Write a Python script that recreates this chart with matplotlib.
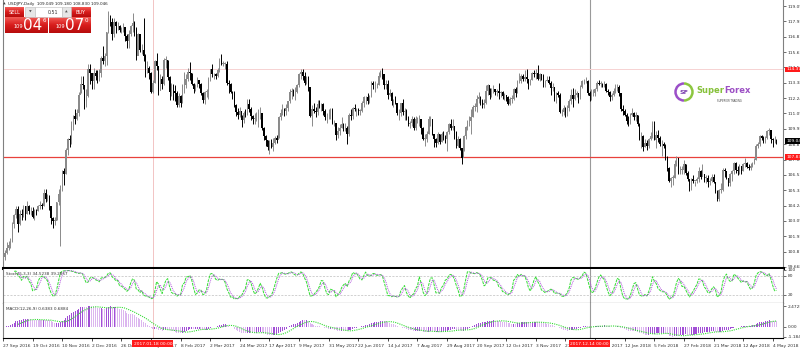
import numpy as np
import pandas as pd
import matplotlib
matplotlib.use('Agg')
import matplotlib.pyplot as plt
from matplotlib.patches import Rectangle, Arc
from matplotlib.colors import LinearSegmentedColormap

plt.rcParams['font.family'] = ['DejaVu Sans']

# USDJPY daily, 27 Sep 2016 .. 8 May 2018 (one row per week)
first_open = 100.3
closes = [
    100.4, 100.7, 101.1, 101.3,
    101.6, 102.9, 103.5, 104.0, 102.9,
    103.6, 103.5, 104.2, 103.6, 104.2,
    103.8, 103.8, 103.4, 103.9, 103.8,
    104.2, 104.3, 104.2, 105.2, 104.7,
    104.8, 104.2, 103.3, 103.1, 103.1,
    104.5, 105.1, 105.7, 106.8, 106.6,
    108.4, 109.2, 109.1, 110.2, 110.9,
    110.7, 111.1, 112.5, 113.3, 113.2,
    112.0, 112.4, 114.4, 114.1, 113.5,
    114.1, 113.9, 113.8, 114.1, 115.2,
    115.0, 115.4, 117.2, 118.2, 117.9,
    117.0, 117.9, 117.6, 117.6, 117.3,
    117.4, 117.5, 116.9, 116.5, 117.0,
    117.6, 117.8, 117.3, 115.4, 117.0,
    115.8, 115.8, 115.4, 114.5, 114.5,
    114.1, 112.7, 113.4, 115.0, 114.6,
    112.8, 113.7, 113.3, 115.1, 115.1,
    113.8, 112.7, 113.2, 112.8, 112.6,
    111.7, 112.4, 111.9, 113.2, 113.2,
    113.7, 114.2, 114.1, 113.3, 112.9,
    113.1, 113.6, 113.3, 112.6, 112.1,
    112.7, 112.8, 113.7, 114.4, 114.0,
    114.0, 113.9, 114.3, 115.0, 114.8,
    114.8, 114.8, 113.4, 113.3, 112.7,
    112.6, 111.7, 111.2, 111.0, 111.3,
    110.6, 111.1, 111.0, 111.8, 111.4,
    110.9, 110.7, 110.7, 111.1, 111.1,
    111.1, 110.0, 109.4, 109.1, 108.6,
    108.9, 108.6, 108.9, 109.3, 109.1,
    110.8, 111.1, 111.4, 111.3, 111.5,
    112.0, 112.7, 112.8, 112.6, 112.7,
    113.2, 114.0, 114.2, 113.9, 113.4,
    113.8, 113.1, 110.9, 111.4, 111.3,
    111.2, 111.8, 111.6, 111.8, 111.3,
    110.8, 110.8, 110.8, 111.4, 110.4,
    110.4, 109.5, 109.8, 110.0, 110.3,
    110.0, 110.0, 109.6, 111.0, 110.9,
    111.5, 111.4, 111.4, 111.3, 111.3,
    111.9, 112.3, 112.3, 112.0, 112.4,
    113.4, 113.2, 113.2, 113.2, 113.9,
    114.1, 114.0, 113.2, 113.3, 112.5,
    112.6, 112.0, 112.0, 111.9, 111.1,
    111.1, 111.9, 111.2, 111.3, 110.7,
    110.3, 110.4, 110.7, 110.0, 110.7,
    110.7, 110.7, 110.0, 109.2, 109.2,
    109.6, 110.7, 110.7, 109.6, 109.2,
    108.9, 109.6, 109.0, 109.6, 109.4,
    109.2, 109.7, 110.3, 110.0, 110.2,
    109.7, 108.7, 109.2, 108.5, 107.8,
    109.4, 110.1, 110.5, 110.5, 110.8,
    111.6, 111.6, 112.2, 112.3, 112.0,
    111.7, 111.9, 112.8, 113.2, 112.5,
    112.8, 112.9, 112.7, 112.8, 112.6,
    112.7, 112.4, 112.5, 112.3, 111.8,
    112.2, 112.2, 112.9, 112.6, 113.5,
    113.5, 113.9, 113.7, 113.8, 113.7,
    113.2, 113.6, 114.1, 114.0, 114.1,
    113.7, 114.0, 113.9, 113.5, 113.5,
    113.6, 113.4, 113.0, 113.1, 112.1,
    112.6, 112.5, 111.2, 111.2, 111.5,
    111.1, 111.5, 112.0, 112.5, 112.2,
    112.5, 112.6, 112.3, 113.1, 113.5,
    113.5, 113.5, 112.6, 112.4, 112.6,
    112.6, 112.9, 113.4, 113.3, 113.3,
    113.2, 113.3, 112.8, 112.7,
    112.3, 112.5, 112.8, 113.0,
    113.1, 112.6, 111.4, 111.3, 111.0,
    110.5, 110.4, 111.0, 111.1, 110.8,
    111.0, 110.3, 109.2, 109.4, 108.6,
    108.9, 108.7, 109.2, 109.4, 110.2,
    109.1, 109.5, 109.3, 108.8, 108.8,
    108.7, 107.8, 107.0, 106.1, 106.3,
    106.3, 107.3, 107.8, 106.7, 106.9,
    106.9, 107.3, 106.7, 106.2, 105.7,
    106.2, 106.1, 106.1, 106.2, 106.8,
    106.4, 106.6, 106.3, 106.3, 106.0,
    106.1, 106.4, 106.0, 105.3, 104.7,
    105.4, 105.4, 106.9, 106.8, 106.3,
    105.9, 106.6, 106.8, 107.4, 106.9,
    106.8, 107.2, 106.8, 107.3, 107.4,
    107.1, 107.0, 107.2, 107.4, 107.6,
    108.7, 108.8, 109.4, 109.3, 109.0,
    109.3, 109.8, 109.9, 109.2, 109.1,
    109.1, 109.05,
]
highs = [
    100.7, 100.9, 101.5, 101.6,
    101.8, 103.0, 103.6, 104.2, 104.2,
    103.9, 104.0, 104.3, 104.2, 104.6,
    104.3, 104.1, 104.1, 104.0, 104.0,
    104.3, 104.6, 104.4, 105.5, 105.5,
    105.1, 105.0, 104.2, 103.4, 103.4,
    104.5, 105.5, 105.8, 106.9, 107.0,
    108.5, 109.3, 109.5, 110.5, 111.0,
    111.4, 111.4, 112.7, 113.9, 113.9,
    113.2, 112.9, 114.8, 114.8, 114.0,
    114.5, 114.3, 114.3, 114.4, 115.4,
    116.1, 115.6, 117.2, 118.7, 118.4,
    118.2, 118.2, 118.0, 117.9, 117.7,
    117.5, 117.8, 117.5, 117.0, 117.3,
    117.7, 118.6, 118.0, 117.5, 117.1,
    116.8, 116.3, 118.2, 115.5, 115.0,
    114.6, 114.2, 113.6, 115.1, 115.6,
    114.6, 114.0, 113.9, 115.2, 115.4,
    115.1, 113.9, 113.4, 113.3, 113.2,
    112.8, 112.6, 112.5, 113.3, 114.2,
    114.0, 114.5, 114.9, 114.1, 113.4,
    113.3, 113.8, 113.6, 113.4, 112.7,
    112.8, 112.9, 113.8, 114.4, 114.8,
    114.1, 114.1, 114.5, 115.2, 115.5,
    115.0, 114.9, 115.0, 113.6, 113.4,
    112.8, 112.8, 111.8, 111.5, 111.6,
    111.0, 111.3, 111.4, 112.2, 112.2,
    111.6, 111.0, 111.1, 111.2, 111.4,
    111.6, 111.1, 110.1, 109.5, 109.1,
    109.1, 109.2, 109.3, 109.4, 109.5,
    110.9, 111.4, 111.8, 111.5, 111.8,
    112.0, 112.9, 113.0, 112.9, 113.1,
    113.3, 114.1, 114.4, 114.4, 114.2,
    113.9, 113.9, 113.1, 111.7, 111.9,
    111.6, 112.1, 112.1, 111.9, 111.9,
    111.4, 111.1, 111.4, 111.5, 111.5,
    110.6, 110.4, 110.1, 110.3, 110.8,
    110.4, 110.4, 110.2, 111.1, 111.4,
    111.6, 111.8, 111.5, 111.5, 111.4,
    112.0, 112.4, 112.4, 112.6, 112.5,
    113.5, 113.5, 113.5, 113.4, 114.2,
    114.3, 114.5, 114.0, 113.6, 113.6,
    112.9, 112.7, 112.2, 112.4, 111.9,
    111.4, 111.9, 112.2, 111.5, 111.4,
    110.9, 110.5, 110.9, 110.8, 110.9,
    110.8, 111.0, 110.7, 110.1, 109.6,
    109.8, 110.9, 110.9, 110.7, 109.6,
    109.3, 109.7, 109.6, 109.7, 109.8,
    109.5, 109.8, 110.4, 110.7, 110.7,
    110.0, 109.8, 109.4, 109.3, 108.5,
    109.5, 110.2, 110.6, 110.9, 111.4,
    111.7, 111.9, 112.5, 112.7, 112.4,
    112.2, 112.2, 113.2, 113.3, 113.0,
    113.0, 113.2, 112.9, 112.9, 113.4,
    112.8, 112.8, 112.6, 112.5, 112.4,
    112.3, 112.5, 113.0, 113.1, 113.6,
    114.1, 114.0, 114.0, 114.3, 114.4,
    113.7, 113.7, 114.2, 114.3, 114.4,
    114.7, 114.1, 114.0, 114.0, 113.6,
    113.9, 113.9, 113.5, 113.4, 113.1,
    112.7, 112.8, 112.6, 111.4, 111.7,
    111.6, 111.7, 112.2, 112.9, 113.0,
    112.9, 112.8, 112.6, 113.2, 113.6,
    113.7, 113.8, 113.6, 112.8, 112.9,
    112.9, 113.0, 113.5, 113.6, 113.5,
    113.4, 113.5, 113.4, 112.9,
    112.8, 112.6, 113.0, 113.3,
    113.3, 113.2, 112.6, 111.7, 111.4,
    111.1, 110.9, 111.1, 111.5, 111.2,
    111.2, 111.0, 110.4, 109.7, 109.5,
    109.2, 109.1, 109.3, 109.7, 110.5,
    110.5, 109.8, 109.9, 109.4, 109.1,
    109.0, 108.8, 107.9, 107.1, 106.4,
    106.5, 107.6, 107.9, 107.8, 107.2,
    107.2, 107.6, 107.3, 106.8, 106.2,
    106.3, 106.5, 106.1, 106.4, 107.1,
    106.9, 107.3, 106.6, 106.5, 106.5,
    106.3, 106.6, 106.6, 106.0, 105.4,
    105.5, 105.9, 107.0, 107.0, 106.6,
    106.3, 106.7, 106.9, 107.5, 107.5,
    107.2, 107.3, 107.2, 107.4, 107.8,
    107.5, 107.3, 107.4, 107.5, 107.8,
    108.8, 109.0, 109.5, 109.5, 109.4,
    109.4, 109.9, 110.0, 109.9, 109.3,
    109.4, 109.2,
]
lows = [
    100.1, 100.2, 100.6, 100.9,
    101.1, 101.5, 102.6, 103.3, 102.3,
    102.8, 103.2, 103.4, 103.2, 103.6,
    103.6, 103.5, 103.3, 103.2, 103.5,
    103.8, 104.0, 104.0, 104.2, 104.5,
    104.6, 103.9, 102.9, 102.6, 102.8,
    103.2, 104.3, 101.2, 105.3, 105.8,
    106.6, 108.0, 108.6, 108.8, 109.9,
    110.3, 110.6, 110.9, 112.6, 112.9,
    111.4, 111.6, 112.3, 113.3, 112.9,
    112.9, 113.6, 113.4, 113.5, 113.8,
    114.8, 114.6, 114.7, 117.1, 117.6,
    116.6, 116.8, 117.1, 117.3, 117.2,
    117.1, 117.2, 116.5, 116.0, 116.0,
    116.9, 117.2, 116.9, 115.1, 115.5,
    115.7, 115.5, 115.0, 113.8, 114.1,
    113.7, 112.6, 112.6, 113.4, 114.3,
    112.5, 112.9, 112.9, 113.2, 114.5,
    113.6, 112.1, 112.4, 112.1, 112.0,
    111.6, 111.6, 111.6, 111.9, 112.6,
    113.0, 113.5, 113.6, 113.2, 112.6,
    112.8, 113.1, 113.0, 112.5, 111.9,
    111.8, 112.3, 112.2, 113.5, 113.8,
    113.7, 113.7, 113.8, 114.2, 114.7,
    114.6, 114.4, 113.2, 112.6, 112.6,
    112.2, 111.6, 110.9, 110.7, 110.8,
    110.1, 110.4, 110.8, 111.0, 111.2,
    110.6, 110.3, 110.3, 110.5, 110.1,
    110.7, 109.9, 109.1, 108.7, 108.4,
    108.1, 108.5, 108.3, 108.8, 108.9,
    109.3, 110.6, 111.0, 110.9, 111.0,
    111.3, 111.9, 112.2, 112.4, 112.1,
    112.6, 113.1, 113.7, 113.6, 113.2,
    113.3, 112.8, 110.8, 110.2, 111.1,
    110.8, 111.0, 111.5, 111.3, 111.0,
    110.6, 110.4, 110.7, 110.7, 110.3,
    110.2, 109.1, 109.3, 109.5, 110.0,
    109.8, 109.8, 108.8, 109.4, 110.6,
    110.7, 111.3, 110.9, 111.0, 111.0,
    111.2, 111.6, 111.8, 111.8, 111.9,
    112.3, 112.9, 112.7, 113.0, 113.2,
    113.8, 113.7, 112.9, 112.9, 112.2,
    112.4, 111.7, 111.6, 111.8, 111.0,
    110.6, 110.9, 111.0, 110.6, 110.6,
    110.2, 110.0, 110.2, 109.9, 109.9,
    110.4, 110.2, 109.6, 109.1, 108.7,
    109.0, 109.6, 110.2, 109.5, 108.6,
    108.6, 108.8, 108.8, 109.0, 109.1,
    108.9, 108.3, 109.6, 109.9, 109.9,
    109.2, 108.5, 108.6, 108.4, 107.3,
    108.3, 109.2, 109.9, 110.2, 109.6,
    110.8, 111.3, 111.2, 111.9, 111.7,
    111.5, 111.5, 111.8, 112.5, 112.2,
    112.3, 112.6, 112.5, 112.4, 112.2,
    112.3, 112.2, 112.1, 112.0, 111.7,
    111.7, 111.9, 112.1, 112.3, 112.6,
    113.4, 113.4, 113.5, 113.5, 113.4,
    112.9, 113.2, 113.6, 113.8, 113.7,
    113.6, 113.5, 113.6, 113.1, 113.1,
    113.5, 113.3, 112.5, 112.8, 112.0,
    111.9, 112.3, 111.1, 110.9, 111.0,
    110.8, 110.9, 111.3, 111.8, 111.6,
    112.1, 112.3, 111.9, 112.2, 113.0,
    113.3, 113.4, 112.5, 112.0, 112.1,
    112.4, 112.4, 112.8, 113.2, 113.1,
    113.1, 113.1, 112.7, 112.5,
    112.0, 112.1, 112.4, 112.6,
    112.8, 112.4, 111.3, 111.0, 110.9,
    110.3, 110.2, 110.3, 110.9, 110.6,
    110.5, 110.2, 109.1, 108.5, 108.3,
    108.6, 108.4, 108.5, 109.1, 109.3,
    109.1, 108.5, 109.0, 108.7, 107.9,
    108.5, 107.6, 106.8, 106.0, 105.6,
    105.8, 106.3, 107.2, 106.6, 106.6,
    106.6, 106.6, 106.5, 106.1, 105.3,
    105.4, 105.9, 105.7, 105.9, 106.0,
    106.2, 106.5, 106.0, 105.9, 105.6,
    105.8, 106.0, 105.9, 105.2, 104.6,
    104.6, 105.2, 105.3, 106.4, 106.2,
    105.7, 105.7, 106.1, 106.6, 106.7,
    106.5, 106.6, 106.6, 106.8, 107.1,
    107.0, 106.9, 106.9, 107.1, 107.3,
    107.6, 108.5, 108.7, 109.1, 108.9,
    108.9, 109.2, 109.5, 108.9, 108.6,
    108.9, 108.8,
]
missing_days = ['2017-12-25', '2018-01-01']

price_ticks = [119.099, 117.956, 116.813, 115.670, 114.527, 113.384, 112.241,
               111.098, 109.955, 108.812, 107.669, 106.526, 105.383, 104.240,
               103.097, 101.954, 100.811, 99.668]
stoch_ticks = [100, 80, 20]
hline_price = 107.83
cross_price = 114.371
cross_bar, cross_label = 81, '2017.01.18 00:00'
vline_bar, vline_label = 317, '2017.12.14 00:00'
header = 'USDJPY,Daily  109.049 109.180 108.830 109.046'

# ---- data frame -----------------------------------------------------------
dates = pd.bdate_range('2016-09-27', '2018-05-08')
dates = dates[~dates.isin(pd.to_datetime(missing_days))]
n = min(len(dates), len(closes), len(highs), len(lows))
df = pd.DataFrame({'close': closes[:n], 'high': highs[:n], 'low': lows[:n]},
                  index=dates[:n])
df['open'] = df['close'].shift(1).fillna(first_open)
x = np.arange(n)

hh = df['high'].rolling(5).max()
ll = df['low'].rolling(5).min()
stoch_k = (df['close'] - ll).rolling(3).sum() / (hh - ll).rolling(3).sum() * 100
stoch_d = stoch_k.rolling(3).mean()
macd = df['close'].ewm(span=12, adjust=False).mean() - df['close'].ewm(span=26, adjust=False).mean()
macd_sig = macd.rolling(9).mean()

# ---- figure ---------------------------------------------------------------
W, H = 800, 351
fig = plt.figure(figsize=(8, 3.51), dpi=100)


def px_box(x0, y0, x1, y1):
    return [x0 / W, 1 - y1 / H, (x1 - x0) / W, (y1 - y0) / H]


ax = fig.add_axes(px_box(3, 0, 783, 268))
ax_st = fig.add_axes(px_box(3, 269, 783, 303), sharex=ax)
ax_md = fig.add_axes(px_box(3, 303, 783, 338), sharex=ax)

for a in (ax, ax_st, ax_md):
    for s in a.spines.values():
        s.set_color('#808080')
        s.set_linewidth(0.8)
    a.spines['top'].set_visible(False)
    a.yaxis.tick_right()
    a.tick_params(axis='y', labelsize=3.2, length=2, pad=1.5, width=0.5,
                  colors='#333333')
    a.axvline(cross_bar, color='#f2c4c4', lw=0.7, zorder=1)
    a.axvline(vline_bar, color='#9a9a9a', lw=0.8, zorder=1)
ax.spines['bottom'].set_color('black')
ax.spines['bottom'].set_linewidth(2.2)
ax_st.spines['bottom'].set_color('black')
ax_md.spines['bottom'].set_color('black')
ax.tick_params(axis='x', bottom=False, labelbottom=False)
ax_st.tick_params(axis='x', bottom=False, labelbottom=False)

# candles
up = df['close'] >= df['open']
col = np.where(up, '#8a8a8a', '#000000')
ax.vlines(x, df['low'], df['high'], colors=col, lw=0.7, zorder=3)
ax.bar(x, np.maximum((df['close'] - df['open']).abs(), 0.04),
       bottom=np.minimum(df['open'], df['close']), width=0.75,
       color=col, linewidth=0, zorder=3)

ax.axhline(hline_price, color='#e8413c', lw=0.9, zorder=2)
ax.axhline(cross_price, color='#f6d2d2', lw=0.7, zorder=1)
ax.set_xlim(0.16, 421.56)
ax.set_ylim(99.590, 119.546)
ax.set_yticks(price_ticks)
ax.set_yticklabels(['%.3f' % v for v in price_ticks])


def axis_tag(a, y, text, fc):
    a.text(1.004, y, text, transform=a.get_yaxis_transform(), fontsize=3.2,
           color='white', va='center', ha='left', zorder=10, clip_on=False,
           bbox=dict(boxstyle='square,pad=0.2', fc=fc, ec='none'))


axis_tag(ax, cross_price, '%.3f' % cross_price, '#ff1a1a')
axis_tag(ax, hline_price, '%.3f' % hline_price, '#ff1a1a')
axis_tag(ax, df['close'].iloc[-1], '109.046', '#000000')

# stochastic
ax_st.plot(x, stoch_k, color='#33dd33', lw=0.7, ls=(0, (3, 1)), zorder=3)
ax_st.plot(x, stoch_d, color='#b04fdd', lw=0.7, ls=(0, (1, 1)), zorder=3)
for lv in (80, 20):
    ax_st.axhline(lv, color='#bdbdbd', lw=0.5, ls=(0, (3, 2)), zorder=1)
ax_st.set_ylim(-5.3, 102.1)
ax_st.set_yticks(stoch_ticks)
ax_st.set_yticklabels([str(v) for v in stoch_ticks])
ax_st.text(0.004, 0.86, 'Stoch(5,3,3) %.4f %.4f' % (stoch_k.iloc[-1], stoch_d.iloc[-1]),
           transform=ax_st.transAxes, fontsize=3, color='#333333', va='center')

# MACD
hist_col = np.where(macd.diff().fillna(0) >= 0, '#a24fd6', '#dcb6ef')
ax_md.bar(x, macd, width=0.55, color=hist_col, linewidth=0, zorder=2)
ax_md.plot(x, macd_sig, color='#33dd33', lw=0.8, ls=(0, (1, 1)), zorder=3)
lo, hi = macd.min(), macd.max()
rng = hi - lo
ax_md.set_ylim(lo - 0.04 * rng, hi + 0.1 * rng)
ax_md.set_yticks([hi, 0, lo])
ax_md.set_yticklabels(['%.4f' % hi, '0.00', '%.4f' % lo])
ax_md.text(0.004, 0.84, 'MACD(12,26,9) %.4f %.4f' % (macd.iloc[-1], macd_sig.iloc[-1]),
           transform=ax_md.transAxes, fontsize=3, color='#333333', va='center')

# date axis
tick_pos = list(range(0, n, 16))
ax_md.set_xticks(tick_pos)
ax_md.set_xticklabels(['%d %s' % (d.day, d.strftime('%b %Y')) for d in df.index[tick_pos]],
                      ha='left')
ax_md.tick_params(axis='x', labelsize=3.2, length=2.5, pad=1.5, width=0.6,
                  colors='#333333')
for bar, lab in ((cross_bar, cross_label), (vline_bar, vline_label)):
    ax_md.text(bar, -0.16, lab, transform=ax_md.get_xaxis_transform(),
               fontsize=3.2, color='white', ha='center', va='center', zorder=10,
               clip_on=False, bbox=dict(boxstyle='square,pad=0.25', fc='#ff1a1a', ec='none'))

# ---- overlay: header, one-click panel, logo -------------------------------
ov = fig.add_axes([0, 0, 1, 1], zorder=20)
ov.axis('off')

ov.text(3, 4, '\u25b2', fontsize=2.5, color='#444444', va='center')
ov.text(8, 4, header, fontsize=3, color='#222222', va='center')

red_grad = LinearSegmentedColormap.from_list('rg', ['#f25a55', '#d81c1c', '#b70d0d'])


def red_box(x0, y0, x1, y1):
    ov.imshow(np.linspace(0, 1, 32)[:, None], cmap=red_grad,
              extent=(x0, x1, y1, y0), aspect='auto', zorder=2)


red_box(5, 7, 24, 17)
red_box(71, 7, 91, 17)
red_box(5, 17.5, 48, 33)
red_box(49, 17.5, 91, 33)
ov.add_patch(Rectangle((25, 7), 10, 10, fc='#e6e6e6', ec='#bdbdbd', lw=0.4, zorder=2))
ov.add_patch(Rectangle((35, 7), 27, 10, fc='white', ec='#bdbdbd', lw=0.4, zorder=2))
ov.add_patch(Rectangle((62, 7), 9, 10, fc='#e6e6e6', ec='#bdbdbd', lw=0.4, zorder=2))
ov.text(14.5, 12, 'SELL', fontsize=3.6, color='white', ha='center', va='center', zorder=3)
ov.text(81, 12, 'BUY', fontsize=3.6, color='white', ha='center', va='center', zorder=3)
ov.text(30, 12, '\u25bc', fontsize=2.5, color='#555555', ha='center', va='center', zorder=3)
ov.text(66.5, 12, '\u25b2', fontsize=2.5, color='#555555', ha='center', va='center', zorder=3)
ov.text(58, 12, '0.51', fontsize=3.4, color='#333333', ha='right', va='center', zorder=3)
for x0, big, small in ((13, '04', '6'), (55, '07', '0')):
    ov.text(x0, 28, '109', fontsize=3.6, color='white', ha='left', va='baseline', zorder=3)
    ov.text(x0 + 10, 30.5, big, fontsize=11, color='white', ha='left', va='baseline', zorder=3)
    ov.text(x0 + 29.5, 22, small, fontsize=4, color='white', ha='left', va='baseline', zorder=3)

ov.add_patch(Arc((684, 92), 17, 17, theta1=90, theta2=270, color='#9b4fc8', lw=1.8, zorder=3))
ov.add_patch(Arc((684, 92), 17, 17, theta1=270, theta2=90, color='#8cc63f', lw=1.8, zorder=3))
ov.text(684, 92.5, 'SF', fontsize=4.5, fontweight='bold', color='#7a3fae',
        ha='center', va='center', zorder=3)
t1 = ov.text(696, 93, 'Super', fontsize=6, fontweight='bold', color='#86c13a',
             ha='left', va='baseline', zorder=3)
ov.annotate('Forex', xy=(1, 0), xycoords=t1, fontsize=6, fontweight='bold',
            color='#9c4fc4', ha='left', va='bottom', zorder=3)
ov.text(729, 100.5, 'SUPERIOR TRADING', fontsize=1.8, color='#444444',
        ha='center', va='center', zorder=3)

ov.set_xlim(0, W)
ov.set_ylim(H, 0)

fig.savefig('out.png', dpi=100)
